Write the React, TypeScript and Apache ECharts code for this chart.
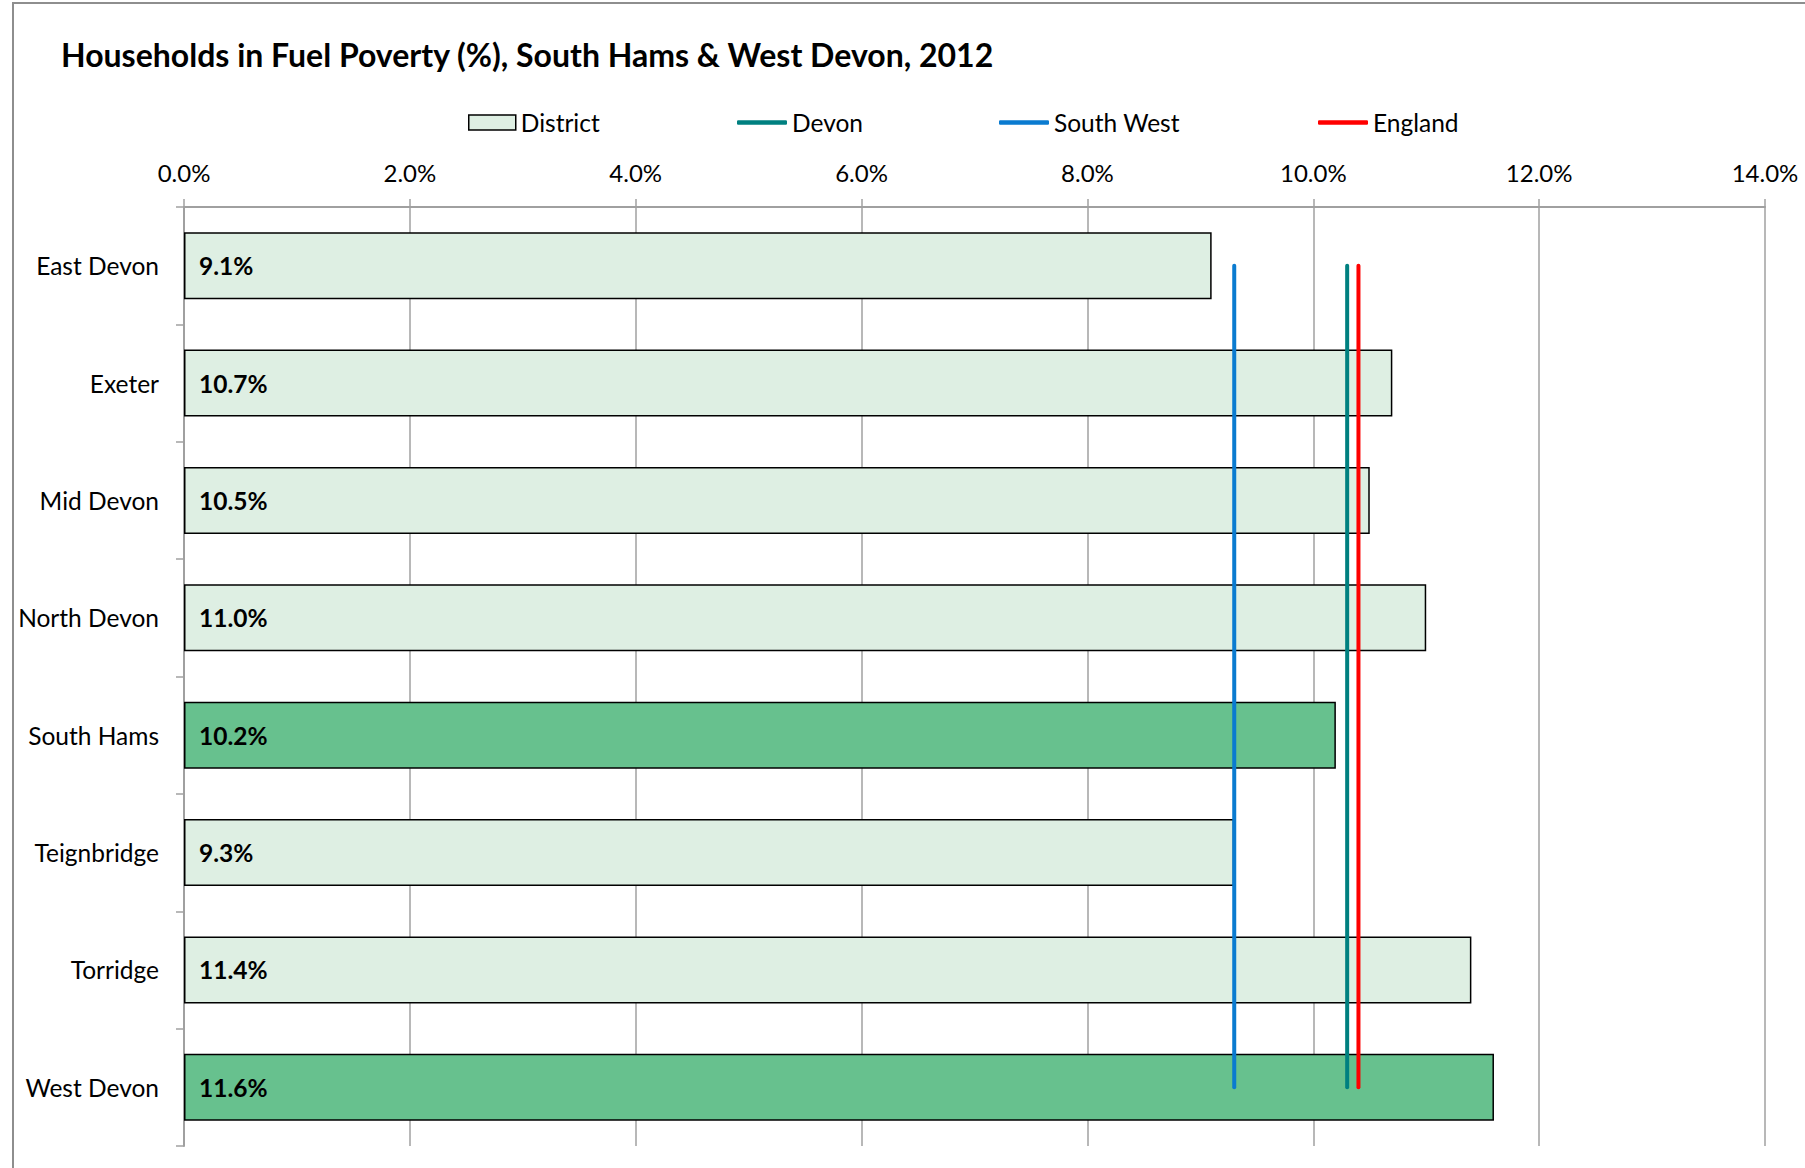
import React, { useEffect, useRef } from "react";
import * as echarts from "echarts";

const titleText = "Households in Fuel Poverty (%), South Hams & West Devon, 2012";
const categories = ["East Devon", "Exeter", "Mid Devon", "North Devon", "South Hams", "Teignbridge", "Torridge", "West Devon"];
const districtValues = [9.1, 10.7, 10.5, 11.0, 10.2, 9.3, 11.4, 11.6];
const highlightedDistricts = ["South Hams", "West Devon"];
const devonValue = 10.3;
const southWestValue = 9.3;
const englandValue = 10.4;
const axisMin = 0;
const axisMax = 14;
const axisInterval = 2;

const FONT = "Lato";
const LIGHT = "#DEEFE3";
const DARK = "#67C18E";
const GRID = "#A0A0A0";

export default function App() {
  const ref = useRef<HTMLDivElement>(null);
  useEffect(() => {
    if (!ref.current) return;
    const chart = echarts.init(ref.current, null, { renderer: "svg" });
    const first = categories[0];
    const last = categories[categories.length - 1];
    const lineSeries = (name: string, value: number, color: string) => ({
      name,
      type: "line",
      data: [[value, first], [value, last]],
      symbol: "none",
      lineStyle: { color, width: 4, cap: "round" },
      itemStyle: { color },
      z: 5,
    });
    const legendBase = {
      top: 110,
      padding: 0,
      textStyle: { fontFamily: FONT, fontSize: 24.5, color: "#000" },
      itemGap: 0,
    };
    chart.setOption({
      animation: false,
      backgroundColor: "#fff",
      grid: { left: 184, right: 40, top: 207, bottom: 22, containLabel: false },
      legend: [
        { ...legendBase, left: 468, data: ["District"], itemWidth: 47, itemHeight: 15, icon: "rect",
          itemStyle: { color: LIGHT, borderColor: "#000", borderWidth: 1.5 } },
        { ...legendBase, left: 737, data: ["Devon"], itemWidth: 50, itemHeight: 4.5, icon: "roundRect" },
        { ...legendBase, left: 999, data: ["South West"], itemWidth: 50, itemHeight: 4.5, icon: "roundRect" },
        { ...legendBase, left: 1318, data: ["England"], itemWidth: 50, itemHeight: 4.5, icon: "roundRect" },
      ],
      xAxis: {
        type: "value",
        position: "top",
        min: axisMin,
        max: axisMax,
        interval: axisInterval,
        axisLine: { show: true, lineStyle: { color: GRID, width: 2 } },
        axisTick: { show: true, length: 8, lineStyle: { color: GRID, width: 1.5 } },
        splitLine: { show: true, lineStyle: { color: GRID, width: 1.5 } },
        axisLabel: {
          formatter: (v: number) => v.toFixed(1) + "%",
          fontFamily: FONT, fontSize: 24, color: "#000", margin: 23,
        },
      },
      yAxis: {
        type: "category",
        inverse: true,
        data: categories,
        axisLine: { show: true, lineStyle: { color: GRID, width: 2 } },
        axisTick: { show: true, length: 8, lineStyle: { color: GRID, width: 1.5 } },
        axisLabel: { fontFamily: FONT, fontSize: 24.5, color: "#000", margin: 25 },
        splitLine: { show: false },
      },
      series: [
        {
          name: "District",
          type: "bar",
          barWidth: 67,
          data: districtValues.map((v, i) => ({
            value: v,
            itemStyle: { color: highlightedDistricts.includes(categories[i]) ? DARK : LIGHT },
          })),
          itemStyle: { color: LIGHT, borderColor: "#000", borderWidth: 1.5 },
          label: {
            show: true,
            position: "insideLeft",
            distance: 15,
            formatter: (p: any) => Number(p.value).toFixed(1) + "%",
            fontFamily: FONT, fontSize: 24.5, fontWeight: "bold", color: "#000",
          },
          z: 2,
        },
        lineSeries("Devon", devonValue, "#008080"),
        lineSeries("South West", southWestValue, "#0A7BD0"),
        lineSeries("England", englandValue, "#FF0000"),
      ],
      graphic: [
        { type: "rect", shape: { x: 13, y: 3, width: 2000, height: 2000 },
          style: { fill: "none", stroke: "#8E8E8E", lineWidth: 2 }, z: 0, silent: true },
        { type: "text", x: 61, y: 54,
          style: { text: titleText, fontFamily: FONT, fontSize: 32, fontWeight: "bold", fill: "#000",
            textVerticalAlign: "middle", verticalAlign: "middle" } },
      ],
    });
    return () => chart.dispose();
  }, []);
  return (
    <div style={{ position: "absolute", left: 0, top: 0, width: 1805, height: 1168, background: "#fff" }}>
      <div ref={ref} style={{ width: 1805, height: 1168 }} />
    </div>
  );
}
